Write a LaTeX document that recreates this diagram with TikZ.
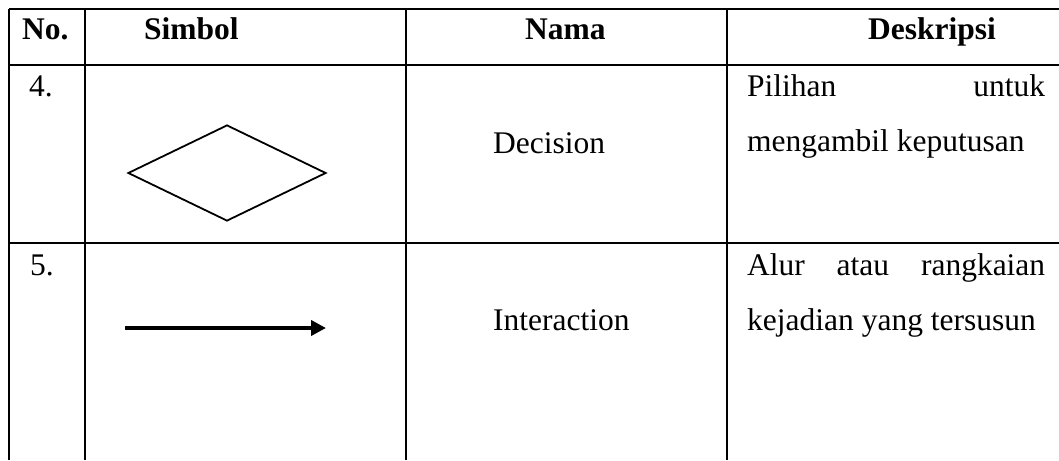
\documentclass[tikz,border=0pt]{standalone}
\usepackage{fontspec}
\setmainfont{Liberation Serif}
\usetikzlibrary{shapes.geometric,arrows.meta}
\begin{document}
\begin{tikzpicture}[x=1pt,y=-1pt,
  grid/.style={line width=2.6pt},
  cell/.style={inner sep=0pt,anchor=base west,font=\fontsize{31.5}{37}\selectfont},
  head/.style={cell,font=\fontsize{31.5}{37}\selectfont\bfseries},
  decisionshape/.style={draw,diamond,line width=1.8pt,inner sep=0pt,
    minimum width=198pt,minimum height=96pt,aspect=2.06},
  flowarrow/.style={line width=4.4pt,-{Triangle[length=15pt,width=15pt]}}]
\useasboundingbox (0,0) rectangle (1059,460);
\fill[white] (0,0) rectangle (1059,460);

% table rules
\draw[grid] (9,9) -- (1059,9);
\draw[grid] (9,65) -- (1059,65);
\draw[grid] (9,243) -- (1059,243);
\foreach \cx in {9,85,406,727}
  \draw[grid] (\cx,9) -- (\cx,460);

% header row
\node[head] (hno)   at (22,40)  {No.};
\node[head] (hsym)  at (144,40) {Simbol};
\node[head] (hname) at (525,40) {Nama};
\node[head] (hdesc) at (868,40) {Deskripsi};

% row 4: decision
\node[cell] (n4) at (29,96) {4.};
\node[decisionshape] (dec) at (227,173) {};
\node[cell] (name4) at (493,153) {Decision};
\node[cell] (d4a) at (747,96)  {\makebox[298pt][s]{Pilihan untuk}};
\node[cell] (d4b) at (747,151) {mengambil keputusan};

% row 5: interaction
\node[cell] (n5) at (30,275) {5.};
\coordinate (arrS) at (125,328);
\coordinate (arrE) at (326,328);
\draw[flowarrow] (arrS) -- (arrE);
\node[cell] (name5) at (493,330) {Interaction};
\node[cell] (d5a) at (747,275) {\makebox[298pt][s]{Alur atau rangkaian}};
\node[cell] (d5b) at (747,330) {kejadian yang tersusun};
\end{tikzpicture}
\end{document}
